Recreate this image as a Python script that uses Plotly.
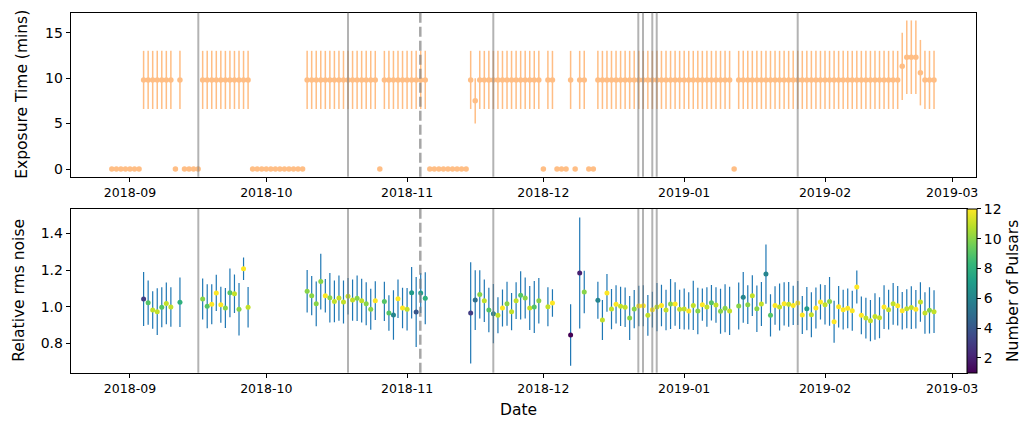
import plotly.graph_objects as go

# ---------------- data ----------------
exposure_dates = [
    "2018-08-28", "2018-08-29", "2018-08-30", "2018-08-31",
    "2018-09-01", "2018-09-02", "2018-09-03", "2018-09-04", "2018-09-05", "2018-09-06", "2018-09-07", "2018-09-08",
    "2018-09-09", "2018-09-10", "2018-09-11", "2018-09-12", "2018-09-13", "2018-09-14", "2018-09-15", "2018-09-16",
    "2018-09-17", "2018-09-18", "2018-09-19", "2018-09-20", "2018-09-21", "2018-09-22", "2018-09-23", "2018-09-24",
    "2018-09-25", "2018-09-26", "2018-09-27", "2018-09-28", "2018-09-29", "2018-09-30",
    "2018-10-01", "2018-10-02", "2018-10-03", "2018-10-04", "2018-10-05", "2018-10-06", "2018-10-07", "2018-10-08",
    "2018-10-09", "2018-10-10", "2018-10-11", "2018-10-12", "2018-10-13", "2018-10-14", "2018-10-15", "2018-10-16",
    "2018-10-17", "2018-10-18", "2018-10-19", "2018-10-20", "2018-10-21", "2018-10-22", "2018-10-23", "2018-10-24",
    "2018-10-25", "2018-10-26", "2018-10-27", "2018-10-28", "2018-10-29", "2018-10-30", "2018-10-31",
    "2018-11-01", "2018-11-02", "2018-11-03", "2018-11-04", "2018-11-05", "2018-11-06", "2018-11-07", "2018-11-08",
    "2018-11-09", "2018-11-10", "2018-11-11", "2018-11-12", "2018-11-13", "2018-11-14", "2018-11-15", "2018-11-16",
    "2018-11-17", "2018-11-18", "2018-11-19", "2018-11-20", "2018-11-21", "2018-11-22", "2018-11-23", "2018-11-24",
    "2018-11-25", "2018-11-26", "2018-11-27", "2018-11-28", "2018-11-29", "2018-11-30",
    "2018-12-01", "2018-12-02", "2018-12-03", "2018-12-04", "2018-12-05", "2018-12-06", "2018-12-07", "2018-12-08",
    "2018-12-09", "2018-12-10", "2018-12-11", "2018-12-12", "2018-12-13", "2018-12-14", "2018-12-15", "2018-12-16",
    "2018-12-17", "2018-12-18", "2018-12-19", "2018-12-20", "2018-12-21", "2018-12-22", "2018-12-23", "2018-12-24",
    "2018-12-25", "2018-12-26", "2018-12-27", "2018-12-28", "2018-12-29", "2018-12-30", "2018-12-31",
    "2019-01-01", "2019-01-02", "2019-01-03", "2019-01-04", "2019-01-05", "2019-01-06", "2019-01-07", "2019-01-08",
    "2019-01-09", "2019-01-10", "2019-01-11", "2019-01-12", "2019-01-13", "2019-01-14", "2019-01-15", "2019-01-16",
    "2019-01-17", "2019-01-18", "2019-01-19", "2019-01-20", "2019-01-21", "2019-01-22", "2019-01-23", "2019-01-24",
    "2019-01-25", "2019-01-26", "2019-01-27", "2019-01-28", "2019-01-29", "2019-01-30", "2019-01-31",
    "2019-02-01", "2019-02-02", "2019-02-03", "2019-02-04", "2019-02-05", "2019-02-06", "2019-02-07", "2019-02-08",
    "2019-02-09", "2019-02-10", "2019-02-11", "2019-02-12", "2019-02-13", "2019-02-14", "2019-02-15", "2019-02-16",
    "2019-02-17", "2019-02-18", "2019-02-19", "2019-02-20", "2019-02-21", "2019-02-22", "2019-02-23", "2019-02-24",
    "2019-02-25",
]
exposure_mins = [
    0, 0, 0, 0,
    0, 0, 0, 9.8, 9.8, 9.8, 9.8, 9.8, 9.8, 9.8, 0, 9.8, 0, 0, 0, 0,
    9.8, 9.8, 9.8, 9.8, 9.8, 9.8, 9.8, 9.8, 9.8, 9.8, 9.8, 0, 0, 0,
    0, 0, 0, 0, 0, 0, 0, 0, 0, 9.8, 9.8, 9.8, 9.8, 9.8, 9.8, 9.8,
    9.8, 9.8, 9.8, 9.8, 9.8, 9.8, 9.8, 9.8, 9.8, 0, 9.8, 9.8, 9.8, 9.8, 9.8,
    9.8, 9.8, 9.8, 9.8, 9.8, 0, 0, 0, 0, 0, 0, 0, 0, 0, 9.8, 7.5,
    9.8, 9.8, 9.8, 9.8, 9.8, 9.8, 9.8, 9.8, 9.8, 9.8, 9.8, 9.8, 9.8, 9.8,
    0, 9.8, 9.8, 0, 0, 0, 9.8, 0, 9.8, 9.8, 0, 0, 9.8, 9.8, 9.8, 9.8,
    9.8, 9.8, 9.8, 9.8, 9.8, 9.8, 9.8, 9.8, 9.8, 9.8, 9.8, 9.8, 9.8, 9.8, 9.8,
    9.8, 9.8, 9.8, 9.8, 9.8, 9.8, 9.8, 9.8, 9.8, 9.8, 9.8, 0, 9.8, 9.8, 9.8, 9.8,
    9.8, 9.8, 9.8, 9.8, 9.8, 9.8, 9.8, 9.8, 9.8, 9.8, 9.8, 9.8, 9.8, 9.8, 9.8,
    9.8, 9.8, 9.8, 9.8, 9.8, 9.8, 9.8, 9.8, 9.8, 9.8, 9.8, 9.8, 9.8, 9.8, 9.8, 9.8,
    9.8, 11.3, 12.3, 12.3, 12.3, 10.6, 9.8, 9.8, 9.8,
]
exposure_err = [
    0, 0, 0, 0,
    0, 0, 0, 3.2, 3.2, 3.2, 3.2, 3.2, 3.2, 3.2, 0, 3.2, 0, 0, 0, 0,
    3.2, 3.2, 3.2, 3.2, 3.2, 3.2, 3.2, 3.2, 3.2, 3.2, 3.2, 0, 0, 0,
    0, 0, 0, 0, 0, 0, 0, 0, 0, 3.2, 3.2, 3.2, 3.2, 3.2, 3.2, 3.2,
    3.2, 3.2, 3.2, 3.2, 3.2, 3.2, 3.2, 3.2, 3.2, 0, 3.2, 3.2, 3.2, 3.2, 3.2,
    3.2, 3.2, 3.2, 3.2, 3.2, 0, 0, 0, 0, 0, 0, 0, 0, 0, 3.2, 2.5,
    3.2, 3.2, 3.2, 3.2, 3.2, 3.2, 3.2, 3.2, 3.2, 3.2, 3.2, 3.2, 3.2, 3.2,
    0, 3.2, 3.2, 0, 0, 0, 3.2, 0, 3.2, 3.2, 0, 0, 3.2, 3.2, 3.2, 3.2,
    3.2, 3.2, 3.2, 3.2, 3.2, 3.2, 3.2, 3.2, 3.2, 3.2, 3.2, 3.2, 3.2, 3.2, 3.2,
    3.2, 3.2, 3.2, 3.2, 3.2, 3.2, 3.2, 3.2, 3.2, 3.2, 3.2, 0, 3.2, 3.2, 3.2, 3.2,
    3.2, 3.2, 3.2, 3.2, 3.2, 3.2, 3.2, 3.2, 3.2, 3.2, 3.2, 3.2, 3.2, 3.2, 3.2,
    3.2, 3.2, 3.2, 3.2, 3.2, 3.2, 3.2, 3.2, 3.2, 3.2, 3.2, 3.2, 3.2, 3.2, 3.2, 3.2,
    3.2, 3.7, 4.05, 4.05, 4.05, 3.6, 3.2, 3.2, 3.2,
]

rms_dates = [
    "2018-09-04", "2018-09-05", "2018-09-06", "2018-09-07", "2018-09-08", "2018-09-09", "2018-09-10", "2018-09-12",
    "2018-09-17", "2018-09-18", "2018-09-19", "2018-09-20", "2018-09-21", "2018-09-22", "2018-09-23", "2018-09-24",
    "2018-09-25", "2018-09-26", "2018-09-27",
    "2018-10-10", "2018-10-11", "2018-10-12", "2018-10-13", "2018-10-14", "2018-10-15", "2018-10-16", "2018-10-17",
    "2018-10-18", "2018-10-19", "2018-10-20", "2018-10-21", "2018-10-22", "2018-10-23", "2018-10-24", "2018-10-25",
    "2018-10-27", "2018-10-28", "2018-10-29", "2018-10-30", "2018-10-31",
    "2018-11-01", "2018-11-02", "2018-11-03", "2018-11-04", "2018-11-05",
    "2018-11-15", "2018-11-16", "2018-11-17", "2018-11-18", "2018-11-19", "2018-11-20", "2018-11-21", "2018-11-22",
    "2018-11-23", "2018-11-24", "2018-11-25", "2018-11-26", "2018-11-27", "2018-11-28", "2018-11-29", "2018-11-30",
    "2018-12-02", "2018-12-03", "2018-12-07", "2018-12-09", "2018-12-10",
    "2018-12-13", "2018-12-14", "2018-12-15", "2018-12-16", "2018-12-17", "2018-12-18", "2018-12-19", "2018-12-20",
    "2018-12-21", "2018-12-22", "2018-12-23", "2018-12-24", "2018-12-25", "2018-12-26", "2018-12-27", "2018-12-28",
    "2018-12-29", "2018-12-30", "2018-12-31",
    "2019-01-01", "2019-01-02", "2019-01-03", "2019-01-04", "2019-01-05", "2019-01-06", "2019-01-07", "2019-01-08",
    "2019-01-09", "2019-01-10", "2019-01-11",
    "2019-01-13", "2019-01-14", "2019-01-15", "2019-01-16", "2019-01-17", "2019-01-18", "2019-01-19", "2019-01-20",
    "2019-01-21", "2019-01-22", "2019-01-23", "2019-01-24", "2019-01-25", "2019-01-26", "2019-01-27", "2019-01-28",
    "2019-01-29", "2019-01-30", "2019-01-31",
    "2019-02-01", "2019-02-02", "2019-02-03", "2019-02-04", "2019-02-05", "2019-02-06", "2019-02-07", "2019-02-08",
    "2019-02-09", "2019-02-10", "2019-02-11", "2019-02-12", "2019-02-13", "2019-02-14", "2019-02-15", "2019-02-16",
    "2019-02-17", "2019-02-18", "2019-02-19", "2019-02-20", "2019-02-21", "2019-02-22", "2019-02-23", "2019-02-24",
    "2019-02-25",
]
rms_noise = [
    1.042, 1.022, 0.982, 0.973, 0.997, 1.018, 0.998, 1.024, 1.042, 1.002, 1.013, 1.075, 1.011, 0.993, 1.076, 1.071,
    0.986, 1.207, 0.997,
    1.084, 1.060, 1.016, 1.137, 1.060, 1.049, 1.029, 1.047, 1.026, 1.057, 1.036, 1.046, 1.033, 1.016, 0.986, 1.033,
    1.029, 0.966, 0.955, 1.044, 0.993,
    0.986, 1.076, 0.971, 1.075, 1.046,
    0.966, 1.036, 1.067, 1.033, 0.982, 0.962, 0.953, 0.993, 1.016, 0.973, 1.033, 1.062, 1.047, 0.993, 0.998, 1.033,
    1.000, 1.020, 0.846, 1.184, 1.080,
    1.035, 0.927, 1.075, 0.987, 1.013, 1.002, 0.997, 0.938, 0.987, 1.004, 1.005, 0.953, 0.984, 0.998, 1.007, 0.982,
    1.015, 1.015, 0.986,
    0.987, 0.977, 1.007, 0.977, 1.011, 0.998, 1.022, 1.009, 0.975, 0.991, 0.977,
    1.004, 1.051, 1.011, 1.060, 0.989, 1.015, 1.178, 0.953, 1.007, 0.998, 1.016, 1.013, 1.007, 1.020, 0.955, 0.989,
    0.956, 0.993, 1.026,
    1.011, 1.029, 0.918, 1.000, 0.984, 0.991, 0.978, 1.107, 0.953, 0.938, 0.924, 0.947, 0.940, 0.998, 0.984, 1.016,
    1.005, 0.978, 0.989, 0.995, 0.986, 1.026, 0.966, 0.980, 0.973,
]
rms_err = [
    0.147, 0.121, 0.102, 0.128, 0.109, 0.114, 0.108, 0.135, 0.112, 0.120, 0.109, 0.099, 0.098, 0.109, 0.133, 0.105,
    0.143, 0.061, 0.111,
    0.116, 0.107, 0.122, 0.152, 0.091, 0.135, 0.114, 0.123, 0.117, 0.099, 0.113, 0.124, 0.119, 0.117, 0.112, 0.106,
    0.107, 0.097, 0.135, 0.105, 0.110,
    0.116, 0.141, 0.191, 0.109, 0.142,
    0.276, 0.163, 0.132, 0.116, 0.121, 0.162, 0.098, 0.101, 0.120, 0.102, 0.100, 0.132, 0.112, 0.120, 0.142, 0.124,
    0.106, 0.075, 0.168, 0.303, 0.116,
    0.101, 0.109, 0.103, 0.110, 0.104, 0.107, 0.108, 0.120, 0.104, 0.111, 0.112, 0.111, 0.098, 0.132, 0.113, 0.110,
    0.136, 0.119, 0.107,
    0.112, 0.102, 0.134, 0.127, 0.088, 0.108, 0.097, 0.097, 0.123, 0.131, 0.132,
    0.128, 0.139, 0.106, 0.111, 0.127, 0.120, 0.162, 0.115, 0.105, 0.128, 0.118, 0.122, 0.107, 0.120, 0.104, 0.118,
    0.123, 0.112, 0.096,
    0.108, 0.133, 0.114, 0.113, 0.108, 0.109, 0.109, 0.090, 0.103, 0.111, 0.113, 0.127, 0.112, 0.119, 0.108, 0.114,
    0.108, 0.102, 0.106, 0.116, 0.105, 0.108, 0.113, 0.126, 0.117,
]
n_pulsars = [
    3, 9, 11, 11, 9, 11, 11, 8, 10, 9, 12, 12, 12, 10, 9, 11, 10, 12, 11,
    10, 10, 10, 10, 12, 10, 11, 11, 11, 11, 11, 10, 11, 10, 10, 12,
    9, 9, 6, 12, 12,
    11, 7, 4, 7, 8,
    3, 5, 10, 11, 9, 6, 11, 12, 10, 11, 11, 9, 10, 11, 9, 10,
    11, 12, 1, 2, 10,
    6, 11, 12, 11, 12, 11, 11, 10, 10, 12, 12, 11, 12, 11, 12, 11, 10, 12, 11,
    11, 12, 11, 10, 12, 11, 9, 11, 10, 10, 11,
    10, 6, 10, 11, 10, 11, 6, 9, 12, 11, 12, 11, 12, 12, 12, 7, 11, 12, 12,
    11, 10, 12, 12, 12, 12, 12, 12, 12, 11, 11, 11, 11, 12, 11, 11, 12, 12, 11, 11, 12, 11, 11, 10, 11,
]

event_lines_solid = [
    "2018-09-16 01:00", "2018-10-18 23:45", "2018-11-19 23:30", "2018-12-21 21:40",
    "2018-12-22 22:20", "2018-12-24 23:30", "2018-12-25 22:50", "2019-01-25 23:45",
]
event_lines_dashed = ["2018-11-03 21:50"]

month_ticks = ["2018-09-01", "2018-10-01", "2018-11-01", "2018-12-01", "2019-01-01", "2019-02-01", "2019-03-01"]
month_labels = ["2018-09", "2018-10", "2018-11", "2018-12", "2019-01", "2019-02", "2019-03"]

# ---------------- figure ----------------
W, H = 1030, 424
FONT = "DejaVu Sans"

def px_x(p):
    return p / W

def px_y(p):
    return 1 - p / H

fig = go.Figure()

fig.add_trace(go.Scatter(
    x=exposure_dates, y=exposure_mins, mode="markers",
    marker=dict(color="#ff7f0e", size=5.5, line=dict(width=0)),
    opacity=0.5,
    error_y=dict(type="data", array=exposure_err, visible=True, color="#ff7f0e", thickness=1.5, width=0),
    xaxis="x", yaxis="y", showlegend=False, hoverinfo="skip",
))

fig.add_trace(go.Scatter(
    x=rms_dates, y=rms_noise, mode="markers",
    marker=dict(
        color=n_pulsars, colorscale="Viridis", cmin=1, cmax=12, size=5, line=dict(width=0),
        showscale=True,
        colorbar=dict(
            x=px_x(967), xanchor="left", xpad=0, thickness=10,
            y=(px_y(209) + px_y(372.7)) / 2, yanchor="middle", ypad=0,
            len=(372.7 - 209) / H, lenmode="fraction",
            outlinewidth=1, outlinecolor="black",
            tickvals=[2, 4, 6, 8, 10, 12], ticks="outside", ticklen=4, tickwidth=1, tickcolor="black",
            tickfont=dict(family=FONT, size=14, color="black"),
            title=dict(text="Number of Pulsars", side="right", font=dict(family=FONT, size=15.5, color="black")),
        ),
    ),
    error_y=dict(type="data", array=rms_err, visible=True, color="#1f77b4", thickness=1.2, width=0),
    xaxis="x2", yaxis="y2", showlegend=False, hoverinfo="skip",
))

axis_common = dict(
    showline=True, mirror=True, linecolor="black", linewidth=1,
    ticks="outside", ticklen=4, tickwidth=1, tickcolor="black",
    showgrid=False, zeroline=False,
)

fig.update_layout(
    width=W, height=H,
    margin=dict(l=0, r=0, t=0, b=0, autoexpand=False),
    paper_bgcolor="white", plot_bgcolor="white",
    font=dict(family=FONT, color="black"),
    hovermode=False,
    xaxis=dict(
        domain=[px_x(70.7), px_x(976)], anchor="y",
        range=["2018-08-18 22:48", "2019-03-06 05:45"],
        tickvals=month_ticks, ticktext=month_labels,
        tickfont=dict(family=FONT, size=12.5, color="black"),
        **axis_common,
    ),
    yaxis=dict(
        domain=[px_y(176.7), px_y(12.7)], anchor="x",
        range=[-0.847, 17.2], tickvals=[0, 5, 10, 15],
        tickfont=dict(family=FONT, size=14, color="black"),
        **axis_common,
    ),
    xaxis2=dict(
        domain=[px_x(70.7), px_x(966.7)], anchor="y2",
        range=["2018-08-18 22:48", "2019-03-04 04:35"],
        tickvals=month_ticks, ticktext=month_labels,
        tickfont=dict(family=FONT, size=12.5, color="black"),
        **axis_common,
    ),
    yaxis2=dict(
        domain=[px_y(372.7), px_y(209)], anchor="x2",
        range=[0.640, 1.533], tickvals=[0.8, 1.0, 1.2, 1.4], tickformat=".1f",
        tickfont=dict(family=FONT, size=14, color="black"),
        **axis_common,
    ),
)

shapes = []
for xr, yr in (("x", "y domain"), ("x2", "y2 domain")):
    for d in event_lines_solid:
        shapes.append(dict(type="line", xref=xr, yref=yr, x0=d, x1=d, y0=0, y1=1,
                           line=dict(color="rgba(128,128,128,0.6)", width=2)))
    for d in event_lines_dashed:
        shapes.append(dict(type="line", xref=xr, yref=yr, x0=d, x1=d, y0=0, y1=1,
                           line=dict(color="rgba(128,128,128,0.7)", width=2.5, dash="10px,4px")))
fig.update_layout(shapes=shapes)

fig.add_annotation(text="Exposure Time (mins)", xref="paper", yref="paper",
                   x=px_x(22), y=px_y((12.7 + 176.7) / 2), textangle=-90, showarrow=False,
                   font=dict(family=FONT, size=15.5, color="black"), xanchor="center", yanchor="middle")
fig.add_annotation(text="Relative rms noise", xref="paper", yref="paper",
                   x=px_x(19), y=px_y((209 + 372.7) / 2), textangle=-90, showarrow=False,
                   font=dict(family=FONT, size=15.5, color="black"), xanchor="center", yanchor="middle")
fig.add_annotation(text="Date", xref="paper", yref="paper",
                   x=px_x((70.7 + 966.7) / 2), y=px_y(410), showarrow=False,
                   font=dict(family=FONT, size=15.5, color="black"), xanchor="center", yanchor="middle")

fig.write_html(
    "out.html",
    config={"displayModeBar": False, "staticPlot": True},
    post_script="document.body.style.margin='0';document.body.style.padding='0';",
)
